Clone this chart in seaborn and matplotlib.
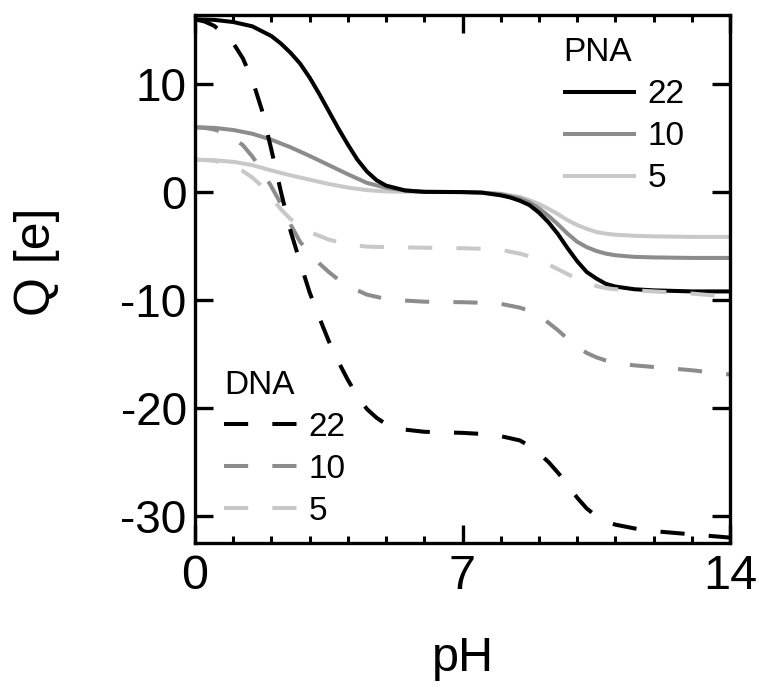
import matplotlib
matplotlib.use("Agg")
import matplotlib.pyplot as plt
import seaborn as sns
from matplotlib.ticker import MultipleLocator

# ---------------- data ----------------
ph_pna22 = [0, 0.5, 1, 1.5, 2, 2.25, 2.5, 2.75, 3, 3.25, 3.5, 3.75, 4, 4.25, 4.5, 4.75, 5, 5.5, 6, 7,
            7.5, 8, 8.25, 8.5, 8.75, 9, 9.25, 9.5, 9.75, 10, 10.25, 10.5, 10.75, 11, 11.5, 12, 13, 14]
q_pna22 = [16.0, 15.95, 15.75, 15.35, 14.45, 13.75, 12.9, 11.9, 10.6, 9.1, 7.5, 5.9, 4.4, 3.0, 1.9, 1.1, 0.6,
           0.15, 0.02, 0.0, -0.05, -0.3, -0.5, -0.8, -1.2, -1.9, -2.8, -3.9, -5.2, -6.4, -7.4, -8.0, -8.5,
           -8.75, -9.0, -9.1, -9.2, -9.2]

ph_pna10 = [0, 0.5, 1, 1.5, 2, 2.5, 3, 3.5, 4, 4.5, 5, 5.5, 6, 7, 7.5, 8, 8.5, 8.75, 9, 9.25, 9.5, 9.75,
            10, 10.25, 10.5, 10.75, 11, 11.5, 12, 13, 14]
q_pna10 = [6.0, 5.95, 5.75, 5.4, 4.85, 4.15, 3.35, 2.5, 1.65, 0.85, 0.4, 0.15, 0.03, 0.0, -0.05, -0.2, -0.6,
           -0.95, -1.5, -2.2, -3.0, -3.85, -4.6, -5.1, -5.45, -5.7, -5.85, -6.0, -6.05, -6.1, -6.1]

ph_pna5 = [0, 0.5, 1, 1.5, 2, 2.5, 3, 3.5, 4, 4.5, 5, 6, 7, 7.5, 8, 8.5, 8.75, 9, 9.25, 9.5, 9.75, 10,
           10.25, 10.5, 10.75, 11, 11.5, 12, 13, 14]
q_pna5 = [3.0, 2.95, 2.8, 2.5, 2.0, 1.55, 1.15, 0.75, 0.42, 0.18, 0.06, 0.01, 0.0, -0.03, -0.15, -0.45, -0.75,
          -1.1, -1.55, -2.05, -2.6, -3.05, -3.4, -3.7, -3.85, -3.95, -4.05, -4.1, -4.15, -4.15]

ph_dna22 = [0, 0.25, 0.5, 0.75, 1, 1.25, 1.5, 1.75, 2, 2.25, 2.5, 2.75, 3, 3.25, 3.5, 3.75, 4, 4.25, 4.5,
            4.75, 5, 5.5, 6, 7, 7.5, 8, 8.5, 8.75, 9, 9.25, 9.5, 9.75, 10, 10.25, 10.5, 10.75, 11, 11.5, 12,
            13, 14]
q_dna22 = [16.0, 15.8, 15.4, 14.7, 13.8, 12.4, 10.4, 7.6, 3.9, 0.0, -3.6, -6.5, -9.3, -11.6, -13.8, -15.7,
           -17.4, -18.9, -20.1, -20.9, -21.5, -22.0, -22.2, -22.3, -22.4, -22.6, -23.0, -23.5, -24.2, -25.0,
           -26.0, -27.1, -28.3, -29.3, -30.0, -30.5, -30.8, -31.15, -31.4, -31.7, -32.0]

ph_dna10 = [0, 0.25, 0.5, 0.75, 1, 1.25, 1.5, 1.75, 2, 2.25, 2.5, 2.75, 3, 3.25, 3.5, 3.75, 4, 4.5, 5, 5.5,
            6, 7, 7.5, 8, 8.5, 8.75, 9, 9.25, 9.5, 9.75, 10, 10.25, 10.5, 10.75, 11, 11.5, 12, 13, 14]
q_dna10 = [6.0, 5.95, 5.8, 5.5, 5.0, 4.35, 3.3, 2.0, 0.5, -1.1, -3.0, -4.6, -5.7, -6.6, -7.4, -8.1, -8.7,
           -9.5, -9.9, -10.05, -10.15, -10.2, -10.25, -10.35, -10.7, -11.0, -11.5, -12.1, -12.8, -13.6,
           -14.3, -14.9, -15.3, -15.6, -15.85, -16.05, -16.2, -16.5, -16.9]

ph_dna5 = [0, 0.25, 0.5, 0.75, 1, 1.25, 1.5, 1.75, 2, 2.25, 2.5, 2.75, 3, 3.5, 4, 4.5, 5, 6, 7, 7.5, 8,
           8.5, 8.75, 9, 9.25, 9.5, 9.75, 10, 10.25, 10.5, 10.75, 11, 11.5, 12, 13, 14]
q_dna5 = [3.0, 2.97, 2.9, 2.7, 2.4, 1.95, 1.35, 0.55, -0.5, -1.6, -2.5, -3.2, -3.7, -4.4, -4.85, -5.05,
          -5.1, -5.15, -5.2, -5.25, -5.35, -5.7, -5.95, -6.3, -6.7, -7.15, -7.6, -8.0, -8.4, -8.7, -8.9,
          -9.0, -9.1, -9.2, -9.4, -9.7]

lengths = ["22", "10", "5"]
x_ticks = [0, 7, 14]
y_ticks = [10, 0, -10, -20, -30]

# ---------------- style ----------------
sns.set_theme(style="ticks")
plt.rcParams["font.family"] = ["Liberation Sans", "DejaVu Sans"]
for k in ["text.color", "axes.labelcolor", "xtick.color", "ytick.color", "axes.edgecolor"]:
    plt.rcParams[k] = "black"

colors = ["#000000", "#8c8c8c", "#c8c8c8"]
LW = 2.9
DASH = (0, (6.0, 6.0))

fig = plt.figure(figsize=(7.59, 6.93), dpi=100)
ax = fig.add_axes([195 / 759, 1 - 543 / 693, 535 / 759, 528 / 693])

pna_sets = [(ph_pna22, q_pna22), (ph_pna10, q_pna10), (ph_pna5, q_pna5)]
dna_sets = [(ph_dna22, q_dna22), (ph_dna10, q_dna10), (ph_dna5, q_dna5)]

pna_lines = [None] * 3
for i in (2, 1, 0):
    x, y = pna_sets[i]
    sns.lineplot(x=x, y=y, ax=ax, color=colors[i], errorbar=None, legend=False)
    ln = ax.get_lines()[-1]
    ln.set_linewidth(LW)
    ln.set_solid_capstyle("butt")
    pna_lines[i] = ln

dna_lines = [None] * 3
for i in (2, 1, 0):
    x, y = dna_sets[i]
    sns.lineplot(x=x, y=y, ax=ax, color=colors[i], errorbar=None, legend=False)
    ln = ax.get_lines()[-1]
    ln.set_linewidth(LW)
    ln.set_linestyle(DASH)
    dna_lines[i] = ln

ax.set_xlim(0, 14)
ax.set_ylim(-32.5, 16.4)
ax.set_xticks(x_ticks)
ax.set_xticklabels([str(t) for t in x_ticks])
ax.set_yticks(y_ticks)
ax.set_yticklabels([str(t) for t in y_ticks])
ax.xaxis.set_minor_locator(MultipleLocator(1))

for s in ax.spines.values():
    s.set_linewidth(2.4)
    s.set_color("black")
ax.tick_params(which="major", direction="in", length=13, width=2.4, top=True, right=True)
ax.tick_params(axis="y", which="major", labelsize=33, pad=6)
ax.tick_params(axis="x", which="major", labelsize=35, pad=8)
ax.tick_params(which="minor", direction="in", length=5, width=2.2, top=True, right=False, left=False)

ax.set_xlabel("pH", fontsize=35)
ax.set_ylabel("Q [e]", fontsize=36)
ax.xaxis.set_label_coords(0.5, -0.176)
ax.yaxis.set_label_coords(-0.295, 0.532)
ax.yaxis.label.set_verticalalignment("center")

common = dict(frameon=False, fontsize=24, title_fontsize=24, handlelength=2.2, handletextpad=0.33,
              labelspacing=0.33, borderpad=0, borderaxespad=0, alignment="left", loc="upper left")
leg1 = ax.legend(handles=pna_lines, labels=lengths, title="PNA", bbox_to_anchor=(0.688, 0.958), **common)
ax.add_artist(leg1)
leg2 = ax.legend(handles=dna_lines, labels=lengths, title="DNA", bbox_to_anchor=(0.054, 0.328), **common)

fig.savefig("out.png", dpi=100)
